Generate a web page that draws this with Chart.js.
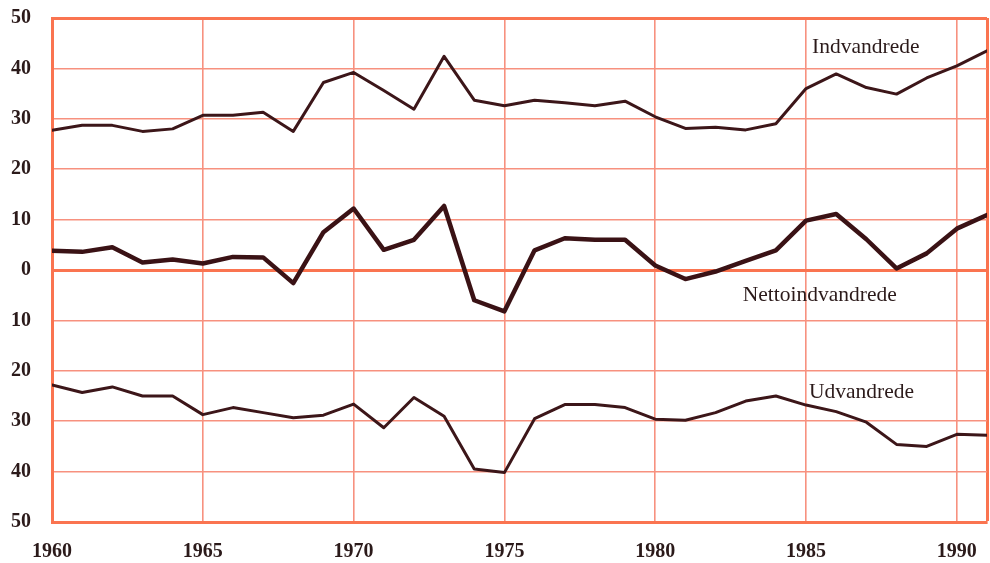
<!DOCTYPE html>
<html>
<head>
<meta charset="utf-8">
<script src="https://cdn.jsdelivr.net/npm/chart.js@4"></script>
<style>
  html, body { margin: 0; padding: 0; background: #fff; }
  #wrap { width: 990px; height: 563px; }
</style>
</head>
<body>
<div id="wrap"><canvas id="myChart" width="990" height="563"></canvas></div>
<script>
// years 1960-1991
const years = [1960, 1961, 1962, 1963, 1964, 1965, 1966, 1967, 1968, 1969,
  1970, 1971, 1972, 1973, 1974, 1975, 1976, 1977, 1978, 1979,
  1980, 1981, 1982, 1983, 1984, 1985, 1986, 1987, 1988, 1989, 1990, 1991];

const indvandrede = [27.7, 28.7, 28.7, 27.5, 28.0, 30.7, 30.7, 31.3, 27.5, 37.2,
  39.2, 35.6, 31.9, 42.4, 33.7, 32.6, 33.7, 33.2, 32.6, 33.5,
  30.4, 28.1, 28.3, 27.8, 29.0, 36.0, 38.9, 36.2, 34.9, 38.1, 40.5, 43.5];

const nettoindvandrede = [3.8, 3.6, 4.5, 1.5, 2.1, 1.3, 2.6, 2.5, -2.6, 7.5,
  12.2, 4.0, 6.0, 12.7, -6.0, -8.2, 3.9, 6.3, 6.0, 6.0,
  0.9, -1.8, -0.3, 1.8, 3.9, 9.8, 11.1, 6.1, 0.3, 3.3, 8.2, 10.9];

const udvandrede = [-22.8, -24.3, -23.2, -25.0, -25.0, -28.7, -27.3, -28.3, -29.3, -28.8,
  -26.6, -31.3, -25.3, -29.0, -39.5, -40.2, -29.5, -26.7, -26.7, -27.3,
  -29.6, -29.8, -28.3, -26.0, -25.0, -26.8, -28.1, -30.2, -34.6, -35.0, -32.6, -32.8];

const xTicks = [1960, 1965, 1970, 1975, 1980, 1985, 1990];
const yTicks = [-50, -40, -30, -20, -10, 0, 10, 20, 30, 40, 50];

// text labels beside the lines: [text, year, value]
const lineLabels = [
  ['Indvandrede', 1985.2, 44.2],
  ['Nettoindvandrede', 1982.9, -5.0],
  ['Udvandrede', 1985.1, -24.2]
];

const gridThin = '#f7917f';
const gridBold = '#fa7450';
const inkColor = '#2b1a1a';

const labelPlugin = {
  id: 'lineLabels',
  afterDatasetsDraw(chart) {
    const { ctx, scales } = chart;
    ctx.save();
    ctx.font = '21.5px "Liberation Serif"';
    ctx.fillStyle = inkColor;
    ctx.textBaseline = 'middle';
    ctx.textAlign = 'left';
    lineLabels.forEach(([text, x, y]) => {
      ctx.fillText(text, scales.x.getPixelForValue(x), scales.y.getPixelForValue(y));
    });
    ctx.restore();
  }
};

const bgPlugin = {
  id: 'whiteBg',
  beforeDraw(chart) {
    const { ctx } = chart;
    ctx.save();
    ctx.fillStyle = '#fff';
    ctx.fillRect(0, 0, chart.width, chart.height);
    ctx.restore();
  }
};

const toPoints = arr => arr.map((v, i) => ({ x: years[i], y: v }));
const lineColor = '#3c1619';

new Chart(document.getElementById('myChart'), {
  type: 'line',
  data: {
    datasets: [
      { label: 'Indvandrede', data: toPoints(indvandrede), borderColor: lineColor, borderWidth: 3 },
      { label: 'Nettoindvandrede', data: toPoints(nettoindvandrede), borderColor: '#3a1215', borderWidth: 4.5 },
      { label: 'Udvandrede', data: toPoints(udvandrede), borderColor: lineColor, borderWidth: 3 }
    ]
  },
  options: {
    responsive: false,
    animation: false,
    layout: { autoPadding: false, padding: { top: 18, right: 3, left: -10, bottom: -19 } },
    elements: {
      point: { radius: 0 },
      line: { tension: 0, borderJoinStyle: 'round', borderCapStyle: 'round' }
    },
    plugins: {
      legend: { display: false },
      tooltip: { enabled: false }
    },
    scales: {
      x: {
        type: 'linear',
        min: 1960,
        max: 1991,
        afterBuildTicks: axis => { axis.ticks = xTicks.concat([1991]).map(v => ({ value: v })); },
        afterFit: axis => { axis.paddingLeft = 0; axis.paddingRight = 0; },
        ticks: {
          callback: v => (xTicks.includes(v) ? String(v) : ''),
          font: { family: 'Liberation Serif', size: 20, weight: 'bold' },
          color: inkColor,
          padding: 18,
          maxRotation: 0,
          autoSkip: false
        },
        grid: {
          drawTicks: false,
          color: c => (c.tick && c.tick.value === 1991 ? gridBold : gridThin),
          lineWidth: c => (c.tick && c.tick.value === 1991 ? 3 : 1.6)
        },
        border: { color: gridBold, width: 3 }
      },
      y: {
        min: -50,
        max: 50,
        afterBuildTicks: axis => { axis.ticks = yTicks.map(v => ({ value: v })); },
        afterFit: axis => { axis.paddingTop = 0; axis.paddingBottom = 0; },
        ticks: {
          callback: v => String(Math.abs(v)),
          font: { family: 'Liberation Serif', size: 20, weight: 'bold' },
          color: inkColor,
          padding: 21
        },
        grid: {
          drawTicks: false,
          color: c => (c.tick && (c.tick.value === 0 || c.tick.value === 50) ? gridBold : gridThin),
          lineWidth: c => (c.tick && (c.tick.value === 0 || c.tick.value === 50) ? 3 : 1.6)
        },
        border: { color: gridBold, width: 3 }
      }
    }
  },
  plugins: [bgPlugin, labelPlugin]
});
</script>
</body>
</html>
